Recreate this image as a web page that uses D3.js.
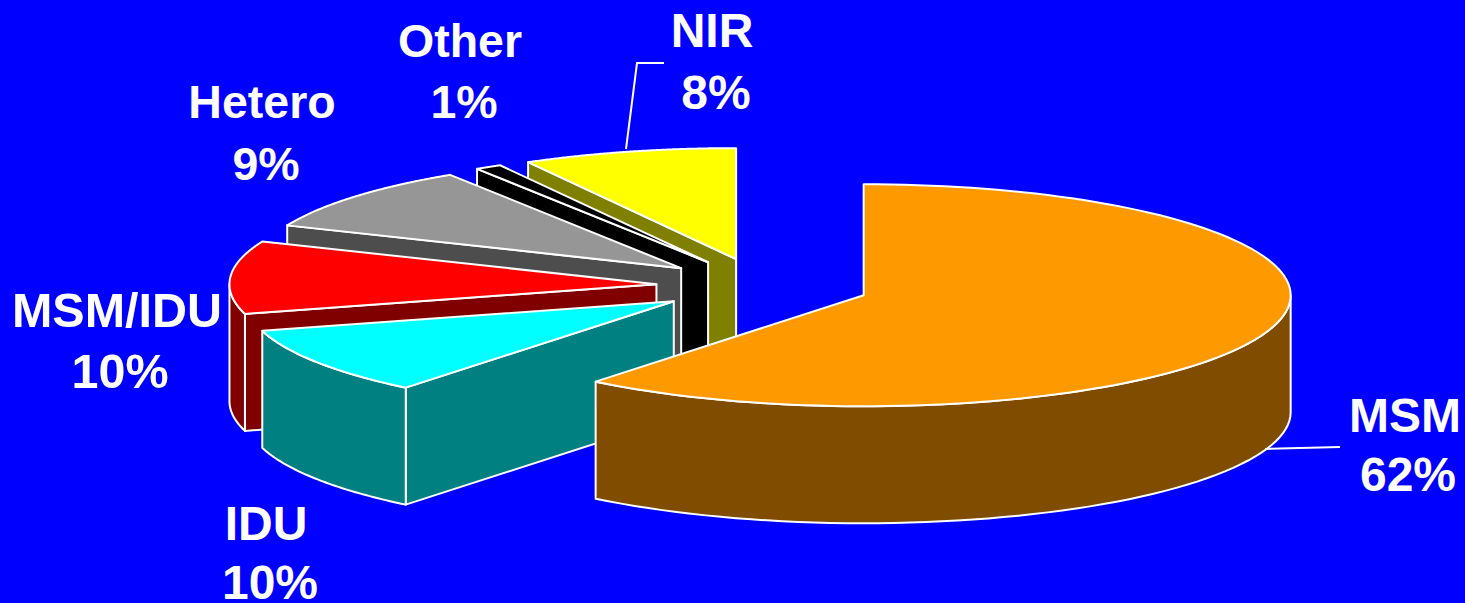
<!DOCTYPE html>
<html><head><meta charset="utf-8">
<style>html,body{margin:0;padding:0;background:#0000ff;overflow:hidden}svg{display:block}</style>
<script src="https://cdn.jsdelivr.net/npm/d3@7"></script></head>
<body><svg id="c" width="1465" height="603"></svg>
<script>
const categories = ["MSM","IDU","MSM/IDU","Hetero","Other","NIR"];
const percentLabels = ["62%","10%","10%","9%","1%","8%"];
const sliceShares = [60.8,9.9,10.6,9.6,1.0,8.1];
const topColors = ["#ff9900","#00ffff","#ff0000","#969696","#000000","#ffff00"];
const sideColors = ["#804d00","#008080","#800000","#4d4d4d","#000000","#808000"];
const labelAnchors = [[1405,432,1408,491],[266,540,270,599],[117,327,120,388],[262,118,266,180],[460,57,464,118],[712,47,716,109]];
const labelSizes = [48,48,48.5,46.5,46.5,48];
const leaders = [[[1265,449],[1340,447]],[[626,149],[637,63],[664,63]]];

const W=1465,H=603,CX=763,CY=286,RX=427,RY=111,DEPTH=117,EXPLODE=0.25;
const svg=d3.select("#c");
svg.append("rect").attr("width",W).attr("height",H).attr("fill","#0000ff");
const sx=d3.scaleLinear().domain([-1,1]).range([CX-RX,CX+RX]);
const sy=d3.scaleLinear().domain([-1,1]).range([CY-RY,CY+RY]);
const line=d3.line();
const arcs=d3.pie().sort(null).value(d=>d)(sliceShares);
const order=[5,4,3,2,1,0];
const g=svg.append("g");
const stroke={stroke:"#fff","stroke-width":2,"stroke-linejoin":"round"};
function poly(pts,fill){
  const p=g.append("path").attr("d",line(pts)+"Z").attr("fill",fill);
  Object.entries(stroke).forEach(([k,v])=>p.attr(k,v));
}
order.forEach(i=>{
  const a=arcs[i],mid=(a.startAngle+a.endAngle)/2;
  const ox=EXPLODE*Math.sin(mid),oy=-EXPLODE*Math.cos(mid);
  const P=(t,r=1)=>[sx(ox+r*Math.sin(t)),sy(oy-r*Math.cos(t))];
  const down=p=>[p[0],p[1]+DEPTH];
  const apex=P(0,0);
  if(Math.cos(a.startAngle-Math.PI/2)<-1e-6){
    const e=P(a.startAngle);
    poly([apex,e,down(e),down(apex)],sideColors[i]);
  }
  const lo=Math.max(a.startAngle,Math.PI/2),hi=Math.min(a.endAngle,3*Math.PI/2);
  if(hi>lo){
    const ts=d3.range(0,61).map(k=>lo+(hi-lo)*k/60);
    const up=ts.map(t=>P(t));
    poly(up.concat(up.map(down).reverse()),sideColors[i]);
  }
  const ts=d3.range(0,121).map(k=>a.startAngle+(a.endAngle-a.startAngle)*k/120);
  poly([apex].concat(ts.map(t=>P(t))),topColors[i]);
});
leaders.forEach(l=>svg.append("path").attr("d",line(l)).attr("fill","none").attr("stroke","#fff").attr("stroke-width",2));
const font={"font-family":"'Liberation Sans',Arial,sans-serif","font-weight":"700","fill":"#fff","text-anchor":"middle"};
categories.forEach((c,i)=>{
  const [x1,y1,x2,y2]=labelAnchors[i];
  [[c,x1,y1],[percentLabels[i],x2,y2]].forEach(([s,x,y])=>{
    const t=svg.append("text").attr("x",x).attr("y",y).attr("font-size",labelSizes[i]+"px").text(s);
    Object.entries(font).forEach(([k,v])=>t.attr(k,v));
  });
});
</script></body></html>
